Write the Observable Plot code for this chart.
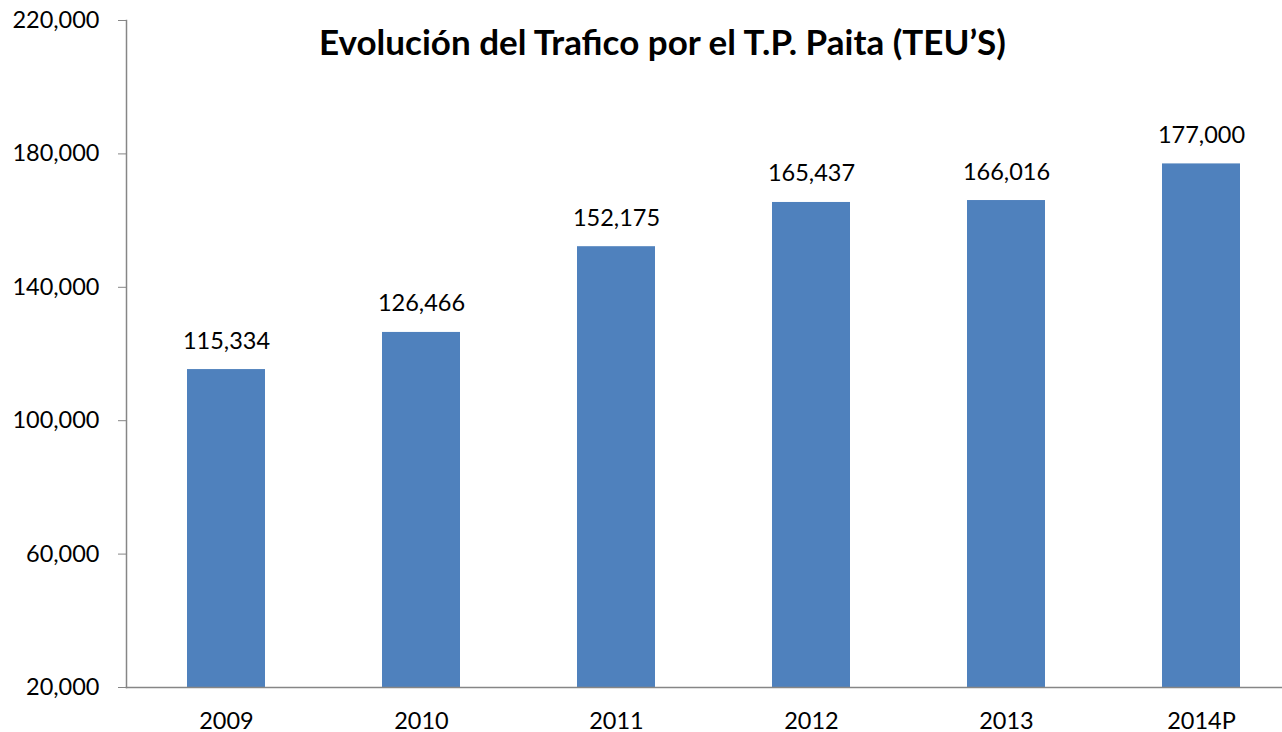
<!DOCTYPE html>
<html>
<head>
<meta charset="utf-8">
<script src="https://cdn.jsdelivr.net/npm/d3@7"></script>
<script src="https://cdn.jsdelivr.net/npm/@observablehq/plot@0.6"></script>
<style>
  html, body { margin: 0; padding: 0; background: #fff; }
  #chart { width: 1282px; height: 732px; }
</style>
</head>
<body>
<div id="chart"></div>
<script>
const title = "Evolución del Trafico por el T.P. Paita (TEU’S)";
const years = ["2009", "2010", "2011", "2012", "2013", "2014P"];
const traffic = [115334, 126466, 152175, 165437, 166016, 177000];
const yTicks = [20000, 60000, 100000, 140000, 180000, 220000];

const data = years.map((year, i) => ({year, value: traffic[i]}));
const fmt = d3.format(",");
const font = "Lato, 'Open Sans', sans-serif";

const chart = Plot.plot({
  width: 1282,
  height: 732,
  marginTop: 20,
  marginBottom: 45,
  marginLeft: 126,
  marginRight: 0,
  style: {fontFamily: font, fontSize: "23.5px", color: "#000", background: "#fff", overflow: "visible"},
  x: {domain: years, range: [126, 1301], paddingInner: 0.6, paddingOuter: 0.3, align: 0.5},
  y: {domain: [20000, 220000]},
  marks: [
    Plot.barY(data, {x: "year", y1: 20000, y2: "value", fill: "#4F81BD"}),
    Plot.frame({anchor: "left", stroke: "#868686", strokeWidth: 1.5}),
    Plot.frame({anchor: "bottom", stroke: "#868686", strokeWidth: 1.5}),
    Plot.axisY({ticks: yTicks, tickFormat: fmt, tickSize: 8, tickPadding: 19, stroke: "#868686", fill: "#000", fontSize: 23.5, label: null}),
    Plot.axisX({tickSize: 0, tickPadding: 25, fontSize: 23.5, fill: "#000", label: null}),
    Plot.text(data, {x: "year", y: "value", text: d => fmt(d.value), dy: -21, lineAnchor: "bottom", fontSize: 23.5, fill: "#000"}),
    Plot.text([title], {frameAnchor: "top", dx: -42, dy: 10, lineAnchor: "top", fontSize: 35, fontWeight: "bold", fill: "#000"})
  ]
});
document.getElementById("chart").appendChild(chart);
</script>
</body>
</html>
